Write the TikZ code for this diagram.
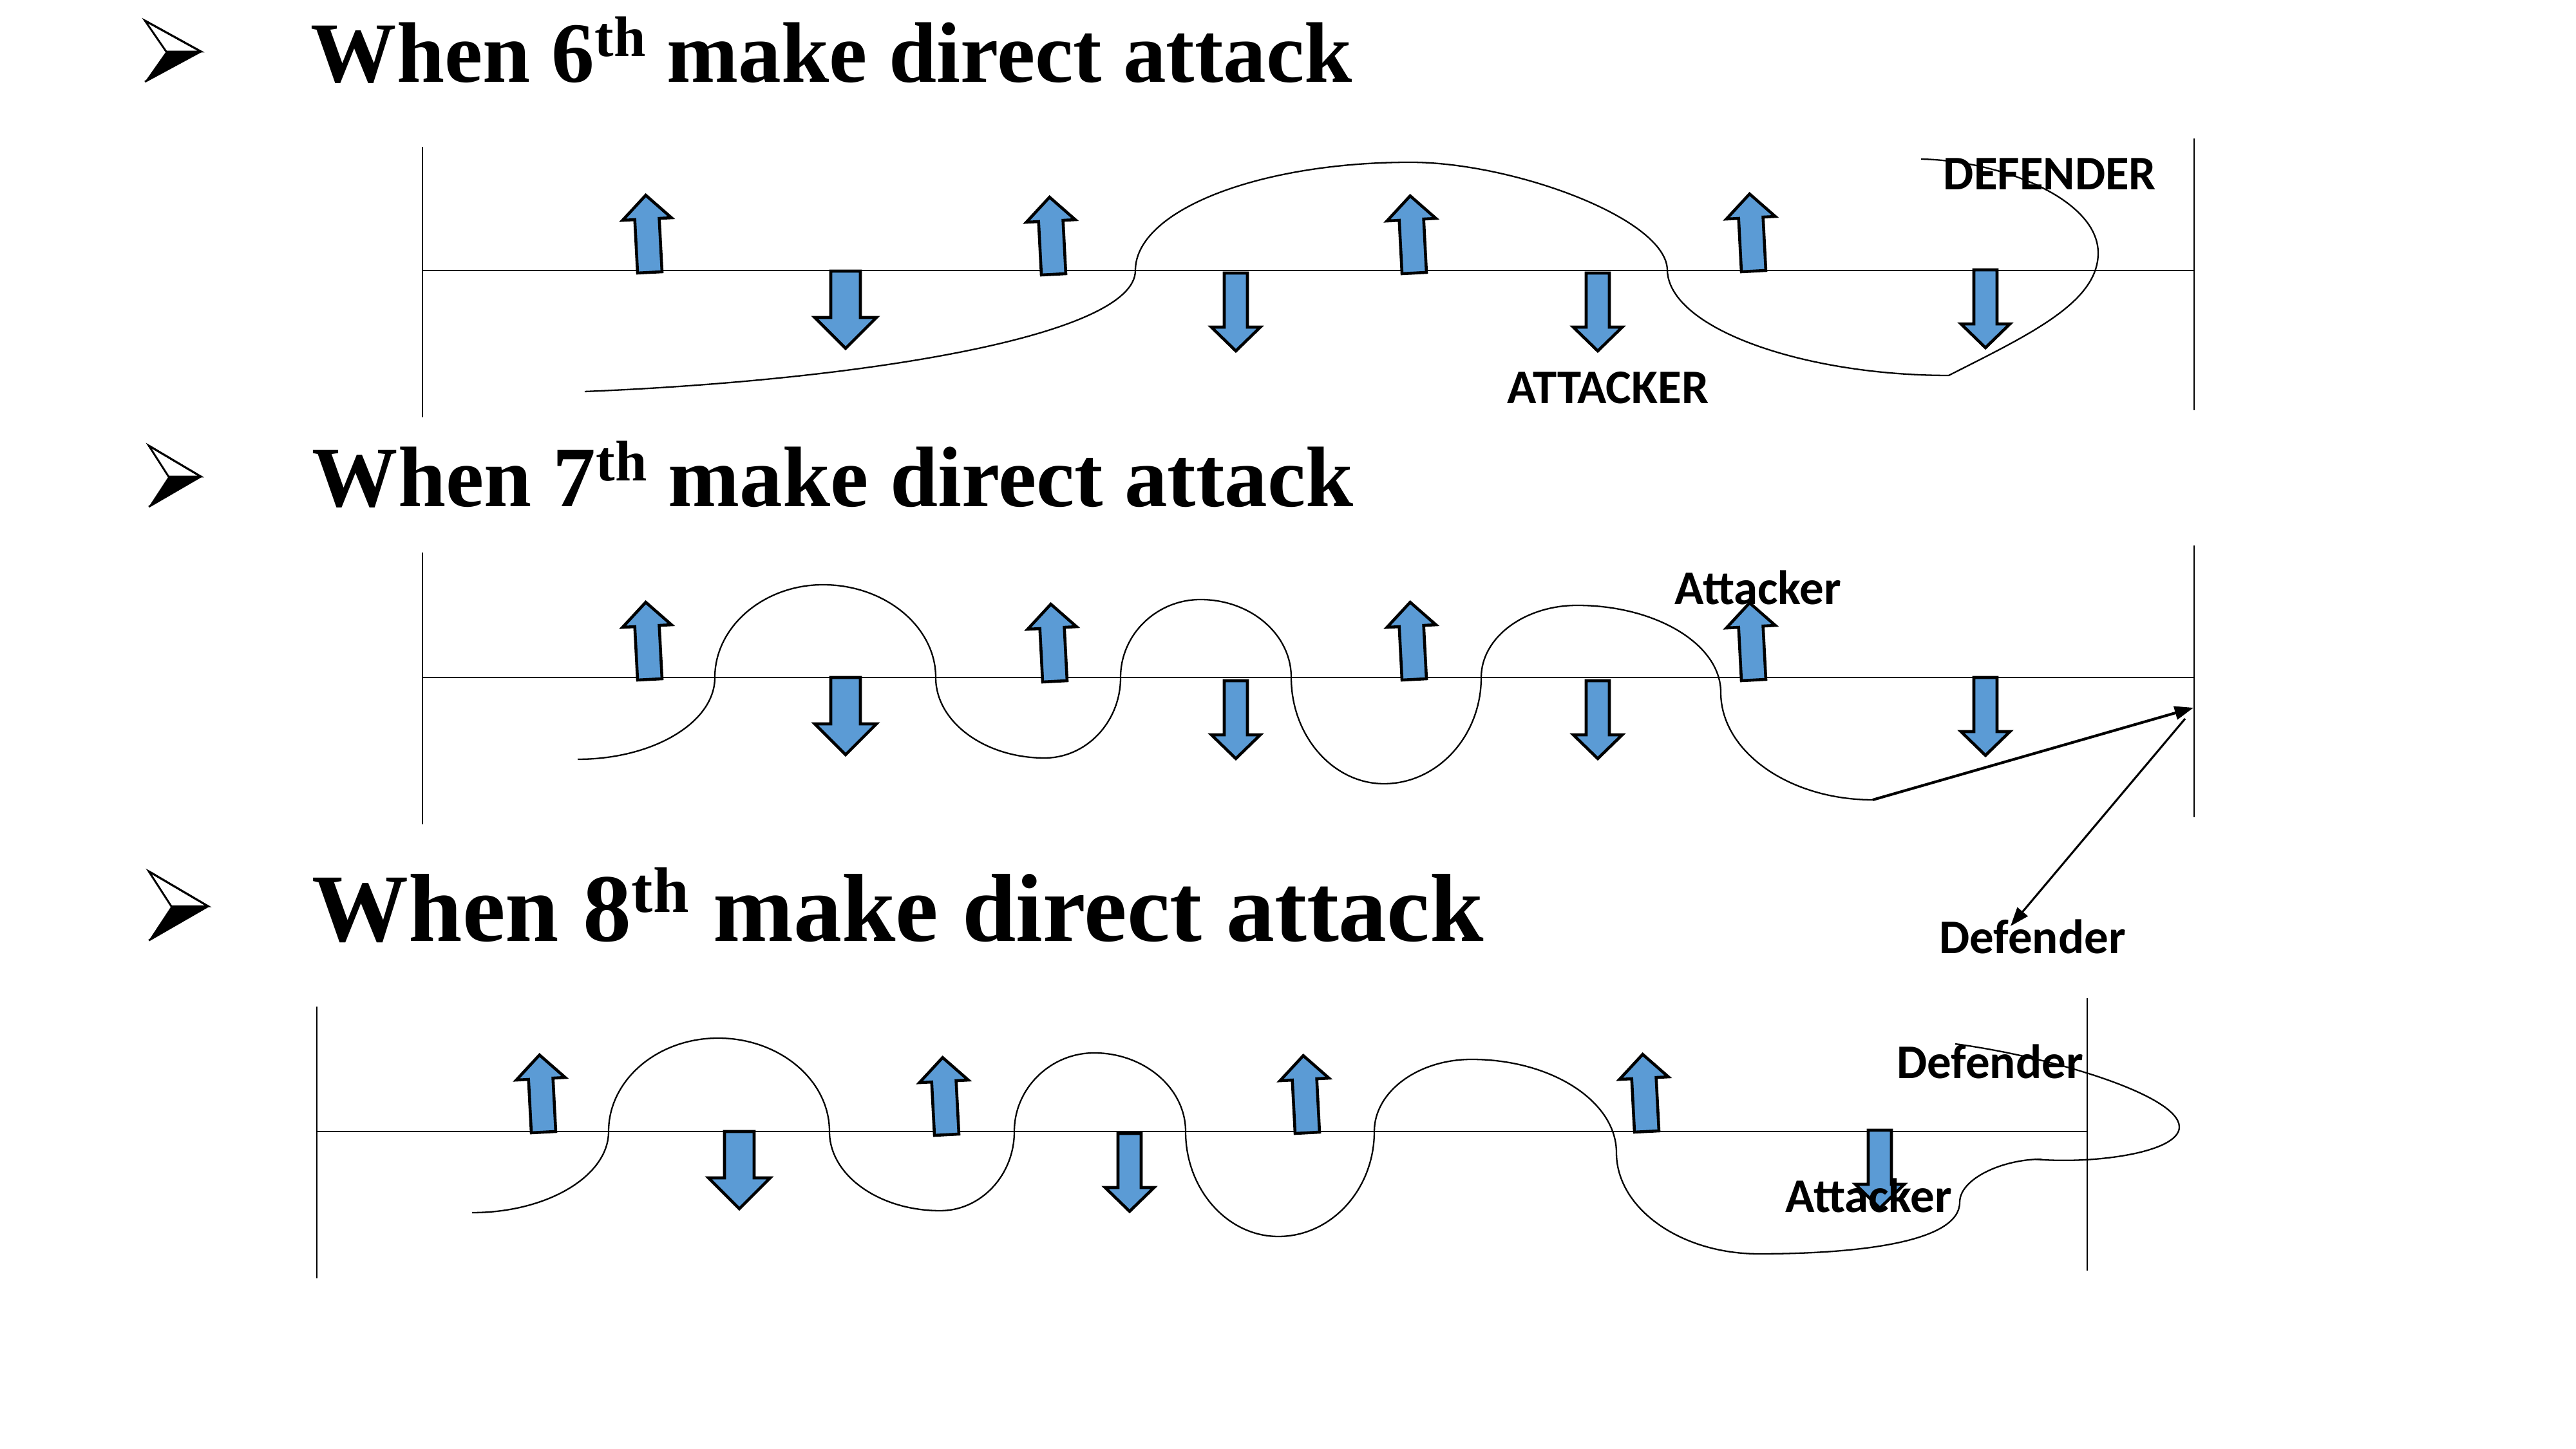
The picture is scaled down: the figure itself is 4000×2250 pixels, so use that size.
\documentclass[tikz,border=0pt]{standalone}
\usepackage{fontspec}
\setmainfont{Liberation Serif}
\newfontfamily\lblfont{Carlito}
\usetikzlibrary{arrows.meta}
\definecolor{arrowblue}{HTML}{5B9BD5}
\tikzset{
  axis/.style={line width=0.6pt},
  curve/.style={line width=0.55pt},
  blu/.style={fill=arrowblue, draw=black, line width=1.1pt, line join=miter},
  titlea/.style={font=\fontsize{32}{38}\selectfont\bfseries, inner sep=0pt, anchor=base west},
  titleb/.style={font=\fontsize{36}{43}\selectfont\bfseries, inner sep=0pt, anchor=base west},
  lbl/.style={font=\lblfont\fontsize{18}{22}\selectfont\bfseries, inner sep=0pt, anchor=base},
  pics/uparr/.style={code={\draw[blu] (-19,0) -- (-19,-83) -- (-38,-83) -- (0,-120) -- (38,-83) -- (19,-83) -- (19,0) -- cycle;}},
  pics/dnarr/.style={code={\draw[blu] (-18,0) -- (-18,84) -- (-38,84) -- (0,121) -- (38,84) -- (18,84) -- (18,0) -- cycle;}},
  pics/dnbig/.style={code={\draw[blu] (-23,0) -- (-23,72) -- (-48,72) -- (0,120) -- (48,72) -- (23,72) -- (23,0) -- cycle;}},
  pics/bullet/.style={code={
    \draw[line width=0.7pt, line join=miter, fill=white] (0,0) -- (87,48) -- (33,48) -- cycle;
    \fill[black] (33,48) -- (87,48) -- (0,95) -- cycle;
    \draw[line width=0.7pt, line join=miter] (0,0) -- (87,48) -- (0,95);}},
  conA/.style={line width=1pt, -{Triangle[length=7pt,width=5pt]}},
  conB/.style={line width=0.75pt, -{Triangle[length=7pt,width=5pt]}}
}
\newcommand{\supth}[1]{\raisebox{0.3em}{\fontsize{#1}{#1}\selectfont th}}
\begin{document}
\begin{tikzpicture}[x=0.24pt,y=-0.24pt]
\useasboundingbox (0,0) rectangle (4000,2250);

% ---------- titles ----------
\pic at (225,32) {bullet};
\node[titlea] (title1) at (482,128) {When 6\supth{21.3} make direct attack};
\pic[xscale=0.93] at (231,692) {bullet};
\node[titlea] (title2) at (484,787) {When 7\supth{21.3} make direct attack};
\pic[xscale=1.06, yscale=1.13] at (231,1353) {bullet};
\node[titleb] (title3) at (484,1462) {When 8\supth{24} make direct attack};

% ---------- section 1 ----------
\draw[axis] (656,228) -- (656,648);
\draw[axis] (3407,215) -- (3407,637);
\draw[axis] (656,420) -- (3407,420);

\draw[curve] (908,608) .. controls (1350,590) and (1763,520) .. (1763,420)
  .. controls (1763,327) and (1954,252) .. (2190,252)
  .. controls (2350,252) and (2589,340) .. (2589,420)
  .. controls (2592,510) and (2800,583) .. (3026,583)
  .. controls (3150,520) and (3258,470) .. (3258,393)
  .. controls (3258,310) and (3110,250) .. (2983,247);

\pic[rotate=3] at (1009,423) {uparr};
\pic[rotate=3] at (1636,426) {uparr};
\pic[rotate=3] at (2196,424) {uparr};
\pic[rotate=3] at (2723,421) {uparr};
\pic at (1313,421) {dnbig};
\pic at (1919,424) {dnarr};
\pic at (2481,424) {dnarr};
\pic at (3083,419) {dnarr};

\node[lbl] (def1) at (3183,295) {DEFENDER};
\node[lbl] (att1) at (2497,627) {ATTACKER};

% ---------- section 2 ----------
\draw[axis] (656,858) -- (656,1280);
\draw[axis] (3407,847) -- (3407,1269);
\draw[axis] (656,1052) -- (3407,1052);

\draw[curve] (897,1179) .. controls (1014,1179) and (1110,1122) .. (1110,1052)
  .. controls (1110,973) and (1186,908) .. (1278,908)
  .. controls (1374,908) and (1453,973) .. (1453,1052)
  .. controls (1453,1121) and (1529,1177) .. (1622,1177)
  .. controls (1687,1177) and (1740,1121) .. (1740,1052)
  .. controls (1740,985) and (1796,931) .. (1864,931)
  .. controls (1942,931) and (2005,985) .. (2005,1052)
  .. controls (2005,1143) and (2070,1217) .. (2149,1217)
  .. controls (2232,1217) and (2300,1143) .. (2300,1052)
  .. controls (2300,990) and (2367,940) .. (2449,940)
  .. controls (2572,940) and (2672,1001) .. (2672,1075)
  .. controls (2672,1167) and (2778,1242) .. (2908,1242);

\pic[rotate=3] at (1009,1055) {uparr};
\pic[rotate=3] at (1638,1058) {uparr};
\pic[rotate=3] at (2196,1055) {uparr};
\pic[rotate=3] at (2723,1056) {uparr};
\pic at (1313,1052) {dnbig};
\pic at (1919,1057) {dnarr};
\pic at (2481,1057) {dnarr};
\pic at (3083,1052) {dnarr};

\node[lbl] (att2) at (2730,939) {Attacker};
\node[lbl] (def2) at (3156,1481) {Defender};

\coordinate (c2end) at (2908,1242);
\coordinate (hit) at (3406,1099);
\coordinate (hitb) at (3393,1116);
\coordinate (deftop) at (3122,1438);
\draw[conA] (c2end) -- (hit);
\draw[conB] (hitb) -- (deftop);

% ---------- section 3 ----------
\draw[axis] (492,1563) -- (492,1985);
\draw[axis] (3241,1550) -- (3241,1973);
\draw[axis] (492,1757) -- (3241,1757);

\draw[curve] (733,1883) .. controls (850,1883) and (945,1826) .. (945,1757)
  .. controls (945,1677) and (1021,1612) .. (1115,1612)
  .. controls (1210,1612) and (1288,1677) .. (1288,1757)
  .. controls (1288,1825) and (1365,1880) .. (1460,1880)
  .. controls (1523,1880) and (1575,1825) .. (1575,1757)
  .. controls (1575,1690) and (1631,1635) .. (1699,1635)
  .. controls (1777,1635) and (1841,1690) .. (1841,1757)
  .. controls (1841,1847) and (1906,1920) .. (1985,1920)
  .. controls (2067,1920) and (2134,1847) .. (2134,1757)
  .. controls (2134,1695) and (2202,1645) .. (2285,1645)
  .. controls (2409,1645) and (2510,1710) .. (2510,1790)
  .. controls (2510,1876) and (2609,1947) .. (2731,1947)
  .. controls (2880,1947) and (3043,1930) .. (3043,1867)
  .. controls (3043,1830) and (3110,1800) .. (3170,1800);
\draw[curve] (3160,1800) .. controls (3250,1808) and (3384,1790) .. (3384,1750)
  .. controls (3384,1700) and (3180,1640) .. (3036,1621);

\pic[rotate=3] at (844,1758) {uparr};
\pic[rotate=3] at (1470,1762) {uparr};
\pic[rotate=3] at (2030,1759) {uparr};
\pic[rotate=3] at (2557,1757) {uparr};
\pic at (1148,1757) {dnbig};
\pic at (1754,1760) {dnarr};
\pic at (2919,1755) {dnarr};

\node[lbl] (def3) at (3090,1675) {Defender};
\node[lbl] (att3) at (2902,1883) {Attacker};

\end{tikzpicture}
\end{document}
